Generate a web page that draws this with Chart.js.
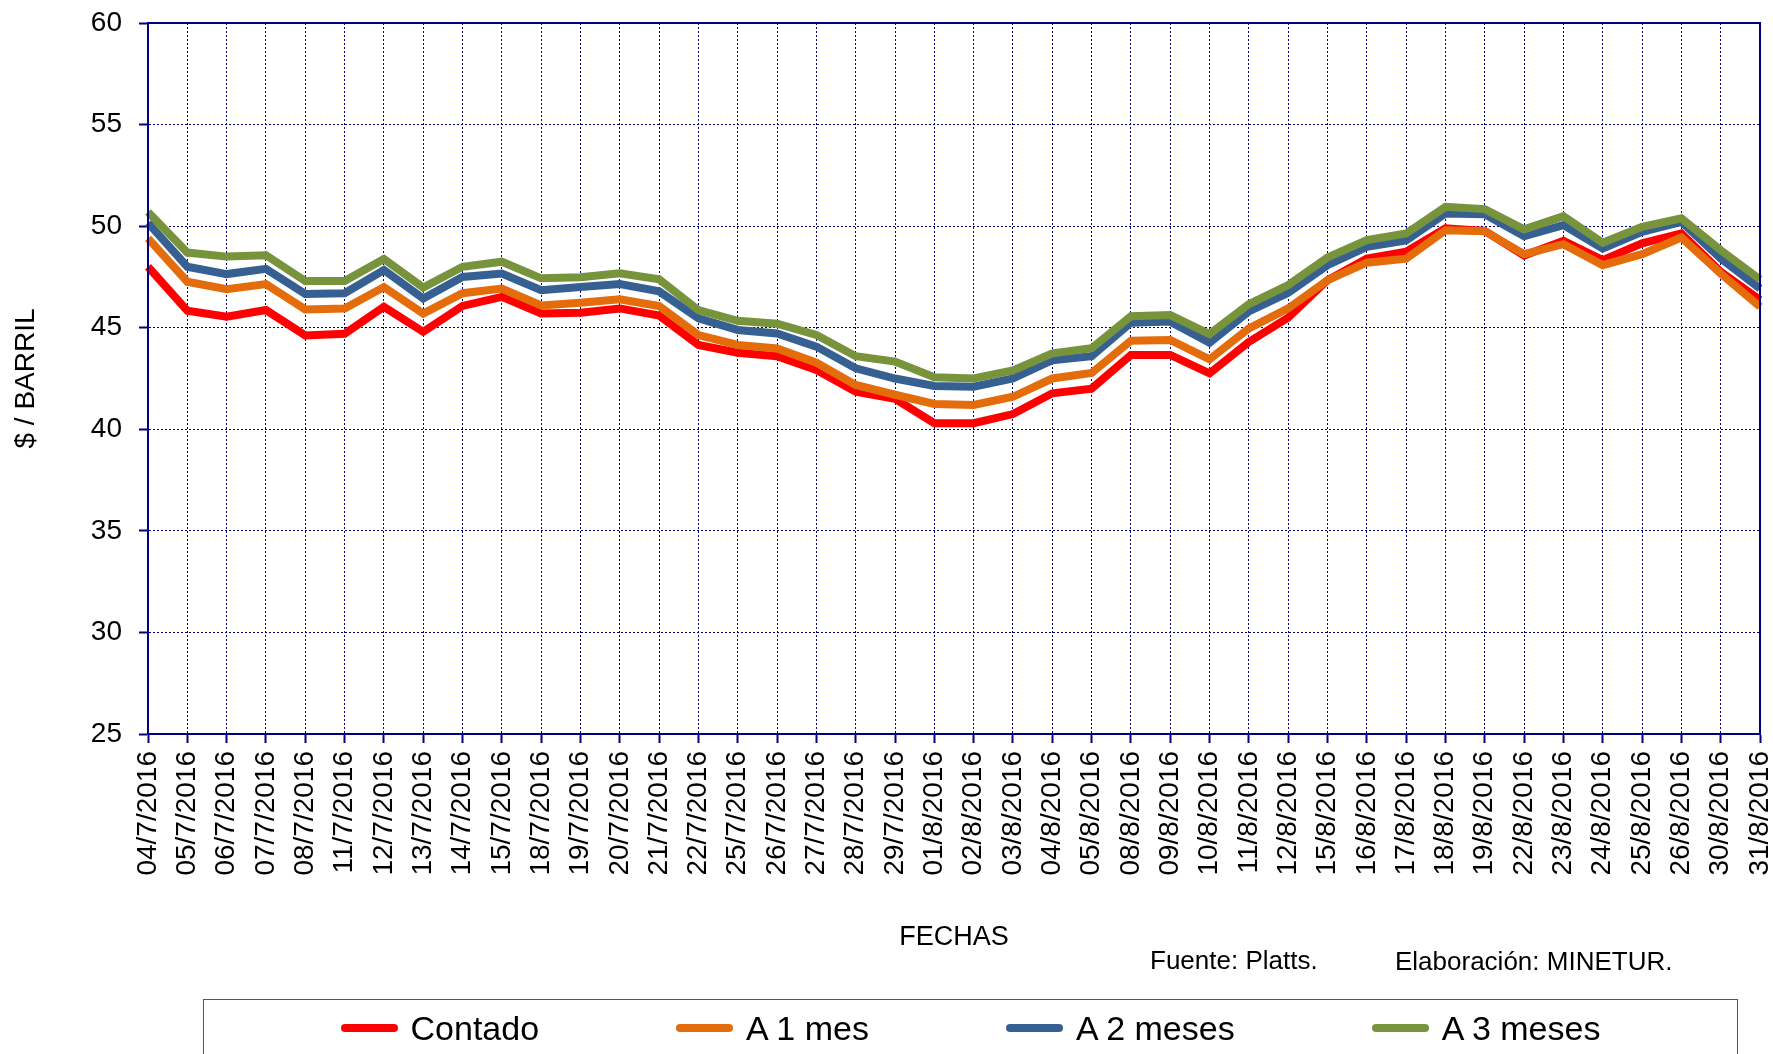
<!DOCTYPE html>
<html>
<head>
<meta charset="utf-8">
<script src="https://cdn.jsdelivr.net/npm/chart.js@4.4.1/dist/chart.umd.min.js"></script>
<style>
    body { margin: 0; background: #fff; }
    #wrap { position: relative; width: 1773px; height: 1054px; overflow: hidden; font-family: "Liberation Sans", Arial, sans-serif; }
    #chart { position: absolute; left: 0; top: 0; }
    .note { position: absolute; font-size: 26px; line-height: 26px; color: #000; white-space: nowrap; }
    #legend { position: absolute; left: 203px; top: 999px; width: 1535px; height: 90px; border: 1px solid #555; box-sizing: border-box; }
    #legend ul { list-style: none; margin: 0; padding: 0; display: flex; justify-content: center; gap: 137px; }
    #legend li { display: flex; align-items: center; height: 56px; font-size: 34px; color: #000; white-space: nowrap; }
    #legend li span.swatch { display: inline-block; width: 57px; height: 8px; border-radius: 4px; margin-right: 13px; }
</style>
</head>
<body>
<div id="wrap">
    <canvas id="chart" width="1773" height="1054"></canvas>
    <div class="note" style="left:1150px; top:947px;">Fuente: Platts.</div>
    <div class="note" style="left:1395px; top:948px;">Elaboración: MINETUR.</div>
    <div id="legend"><ul></ul></div>
</div>
<script>
"use strict";

// Fechas (eje X)
var fechas = [
    "04/7/2016", "05/7/2016", "06/7/2016", "07/7/2016", "08/7/2016", "11/7/2016", "12/7/2016",
    "13/7/2016", "14/7/2016", "15/7/2016", "18/7/2016", "19/7/2016", "20/7/2016", "21/7/2016",
    "22/7/2016", "25/7/2016", "26/7/2016", "27/7/2016", "28/7/2016", "29/7/2016", "01/8/2016",
    "02/8/2016", "03/8/2016", "04/8/2016", "05/8/2016", "08/8/2016", "09/8/2016", "10/8/2016",
    "11/8/2016", "12/8/2016", "15/8/2016", "16/8/2016", "17/8/2016", "18/8/2016", "19/8/2016",
    "22/8/2016", "23/8/2016", "24/8/2016", "25/8/2016", "26/8/2016", "30/8/2016", "31/8/2016"
];

// $ / barril
var contado = [
    48.0, 45.84, 45.54, 45.87, 44.62, 44.7, 46.03, 44.8, 46.07, 46.52, 45.7, 45.74, 45.95, 45.6,
    44.15, 43.77, 43.6, 42.92, 41.85, 41.5, 40.3, 40.3, 40.75, 41.77, 42.0, 43.66, 43.66, 42.75,
    44.3, 45.5, 47.34, 48.4, 48.74, 49.89, 49.77, 48.55, 49.28, 48.33, 49.15, 49.64, 47.75, 46.36
];
var aUnMes = [
    49.4, 47.26, 46.9, 47.15, 45.9, 45.95, 47.0, 45.7, 46.7, 46.93, 46.1, 46.23, 46.4, 46.07,
    44.64, 44.15, 43.98, 43.28, 42.18, 41.7, 41.25, 41.2, 41.6, 42.5, 42.77, 44.36, 44.4, 43.44,
    44.97, 45.95, 47.34, 48.2, 48.4, 49.8, 49.75, 48.62, 49.11, 48.08, 48.62, 49.44, 47.67, 46.03
];
var aDosMeses = [
    50.16, 48.0, 47.64, 47.9, 46.66, 46.7, 47.84, 46.44, 47.5, 47.67, 46.85, 47.0, 47.15, 46.79,
    45.46, 44.89, 44.72, 44.07, 43.0, 42.5, 42.13, 42.1, 42.5, 43.4, 43.6, 45.25, 45.3, 44.26,
    45.8, 46.72, 48.08, 48.98, 49.3, 50.62, 50.58, 49.5, 50.05, 48.9, 49.72, 50.21, 48.41, 46.93
];
var aTresMeses = [
    50.7, 48.7, 48.5, 48.57, 47.3, 47.3, 48.38, 46.98, 48.0, 48.25, 47.43, 47.48, 47.68, 47.38,
    45.87, 45.34, 45.2, 44.64, 43.6, 43.33, 42.56, 42.5, 42.9, 43.74, 43.99, 45.57, 45.62, 44.69,
    46.16, 47.1, 48.46, 49.31, 49.64, 50.95, 50.84, 49.84, 50.49, 49.18, 49.97, 50.38, 48.82, 47.38
];

var series = ["Contado", "A 1 mes", "A 2 meses", "A 3 meses"];
var colores = ["#FF0000", "#E46C0A", "#376092", "#77933C"];
var yMin = 25, yMax = 60, yStep = 5;

var navy = "#000080";
var fontFamily = '"Liberation Sans", Arial, sans-serif';

// solid frame round the plot area (top and right edges too)
var framePlugin = {
    id: "frame",
    afterDraw: function (chart) {
        var a = chart.chartArea;
        var ctx = chart.ctx;
        ctx.save();
        ctx.strokeStyle = navy;
        ctx.lineWidth = 2;
        ctx.strokeRect(a.left, a.top, a.right - a.left, a.bottom - a.top);
        ctx.restore();
    }
};

var valores = [contado, aUnMes, aDosMeses, aTresMeses];
var datasets = series.map(function (name, i) {
    return {
        label: name,
        data: valores[i],
        borderColor: colores[i],
        backgroundColor: colores[i],
        borderWidth: 8,
        pointRadius: 0,
        tension: 0,
        fill: false,
        order: series.length - i // later series drawn on top
    };
});

var ctx = document.getElementById("chart").getContext("2d");
new Chart(ctx, {
    type: "line",
    data: { labels: fechas, datasets: datasets },
    options: {
        responsive: false,
        animation: false,
        layout: { padding: { left: 0, right: 0, top: 23, bottom: 100 } },
        scales: {
            x: {
                offset: false,
                grid: { color: navy, lineWidth: 1, tickLength: 9, tickColor: navy, tickWidth: 2 },
                border: { display: true, color: navy, width: 2, dash: [2, 2] },
                ticks: {
                    autoSkip: false, minRotation: 90, maxRotation: 90, padding: 8,
                    color: "#000", font: { family: fontFamily, size: 28 }
                },
                title: {
                    display: true, text: "FECHAS", color: "#000",
                    font: { family: fontFamily, size: 27 }, padding: { top: 0, bottom: 0 }
                },
                afterFit: function (scale) {
                    scale.height = 220;
                    scale.paddingLeft = 0;
                    scale.paddingRight = 13;
                }
            },
            y: {
                min: yMin, max: yMax,
                grid: { color: navy, lineWidth: 1, tickLength: 9, tickColor: navy, tickWidth: 2 },
                border: { display: true, color: navy, width: 2, dash: [2, 2] },
                ticks: {
                    stepSize: yStep, padding: 17, color: "#000",
                    font: { family: fontFamily, size: 28 }
                },
                title: {
                    display: true, text: "$ / BARRIL", color: "#000",
                    font: { family: fontFamily, size: 28 }, padding: { top: 9, bottom: 0 }
                },
                afterFit: function (scale) {
                    scale.width = 148;
                    scale.paddingTop = 0;
                    scale.paddingBottom = 0;
                }
            }
        },
        plugins: {
            legend: { display: false },
            tooltip: { enabled: false }
        }
    },
    plugins: [framePlugin]
});

// legend built from the series names
var ul = document.querySelector("#legend ul");
series.forEach(function (name, i) {
    var li = document.createElement("li");
    var sw = document.createElement("span");
    sw.className = "swatch";
    sw.style.background = colores[i];
    li.appendChild(sw);
    li.appendChild(document.createTextNode(name));
    ul.appendChild(li);
});
</script>
</body>
</html>
